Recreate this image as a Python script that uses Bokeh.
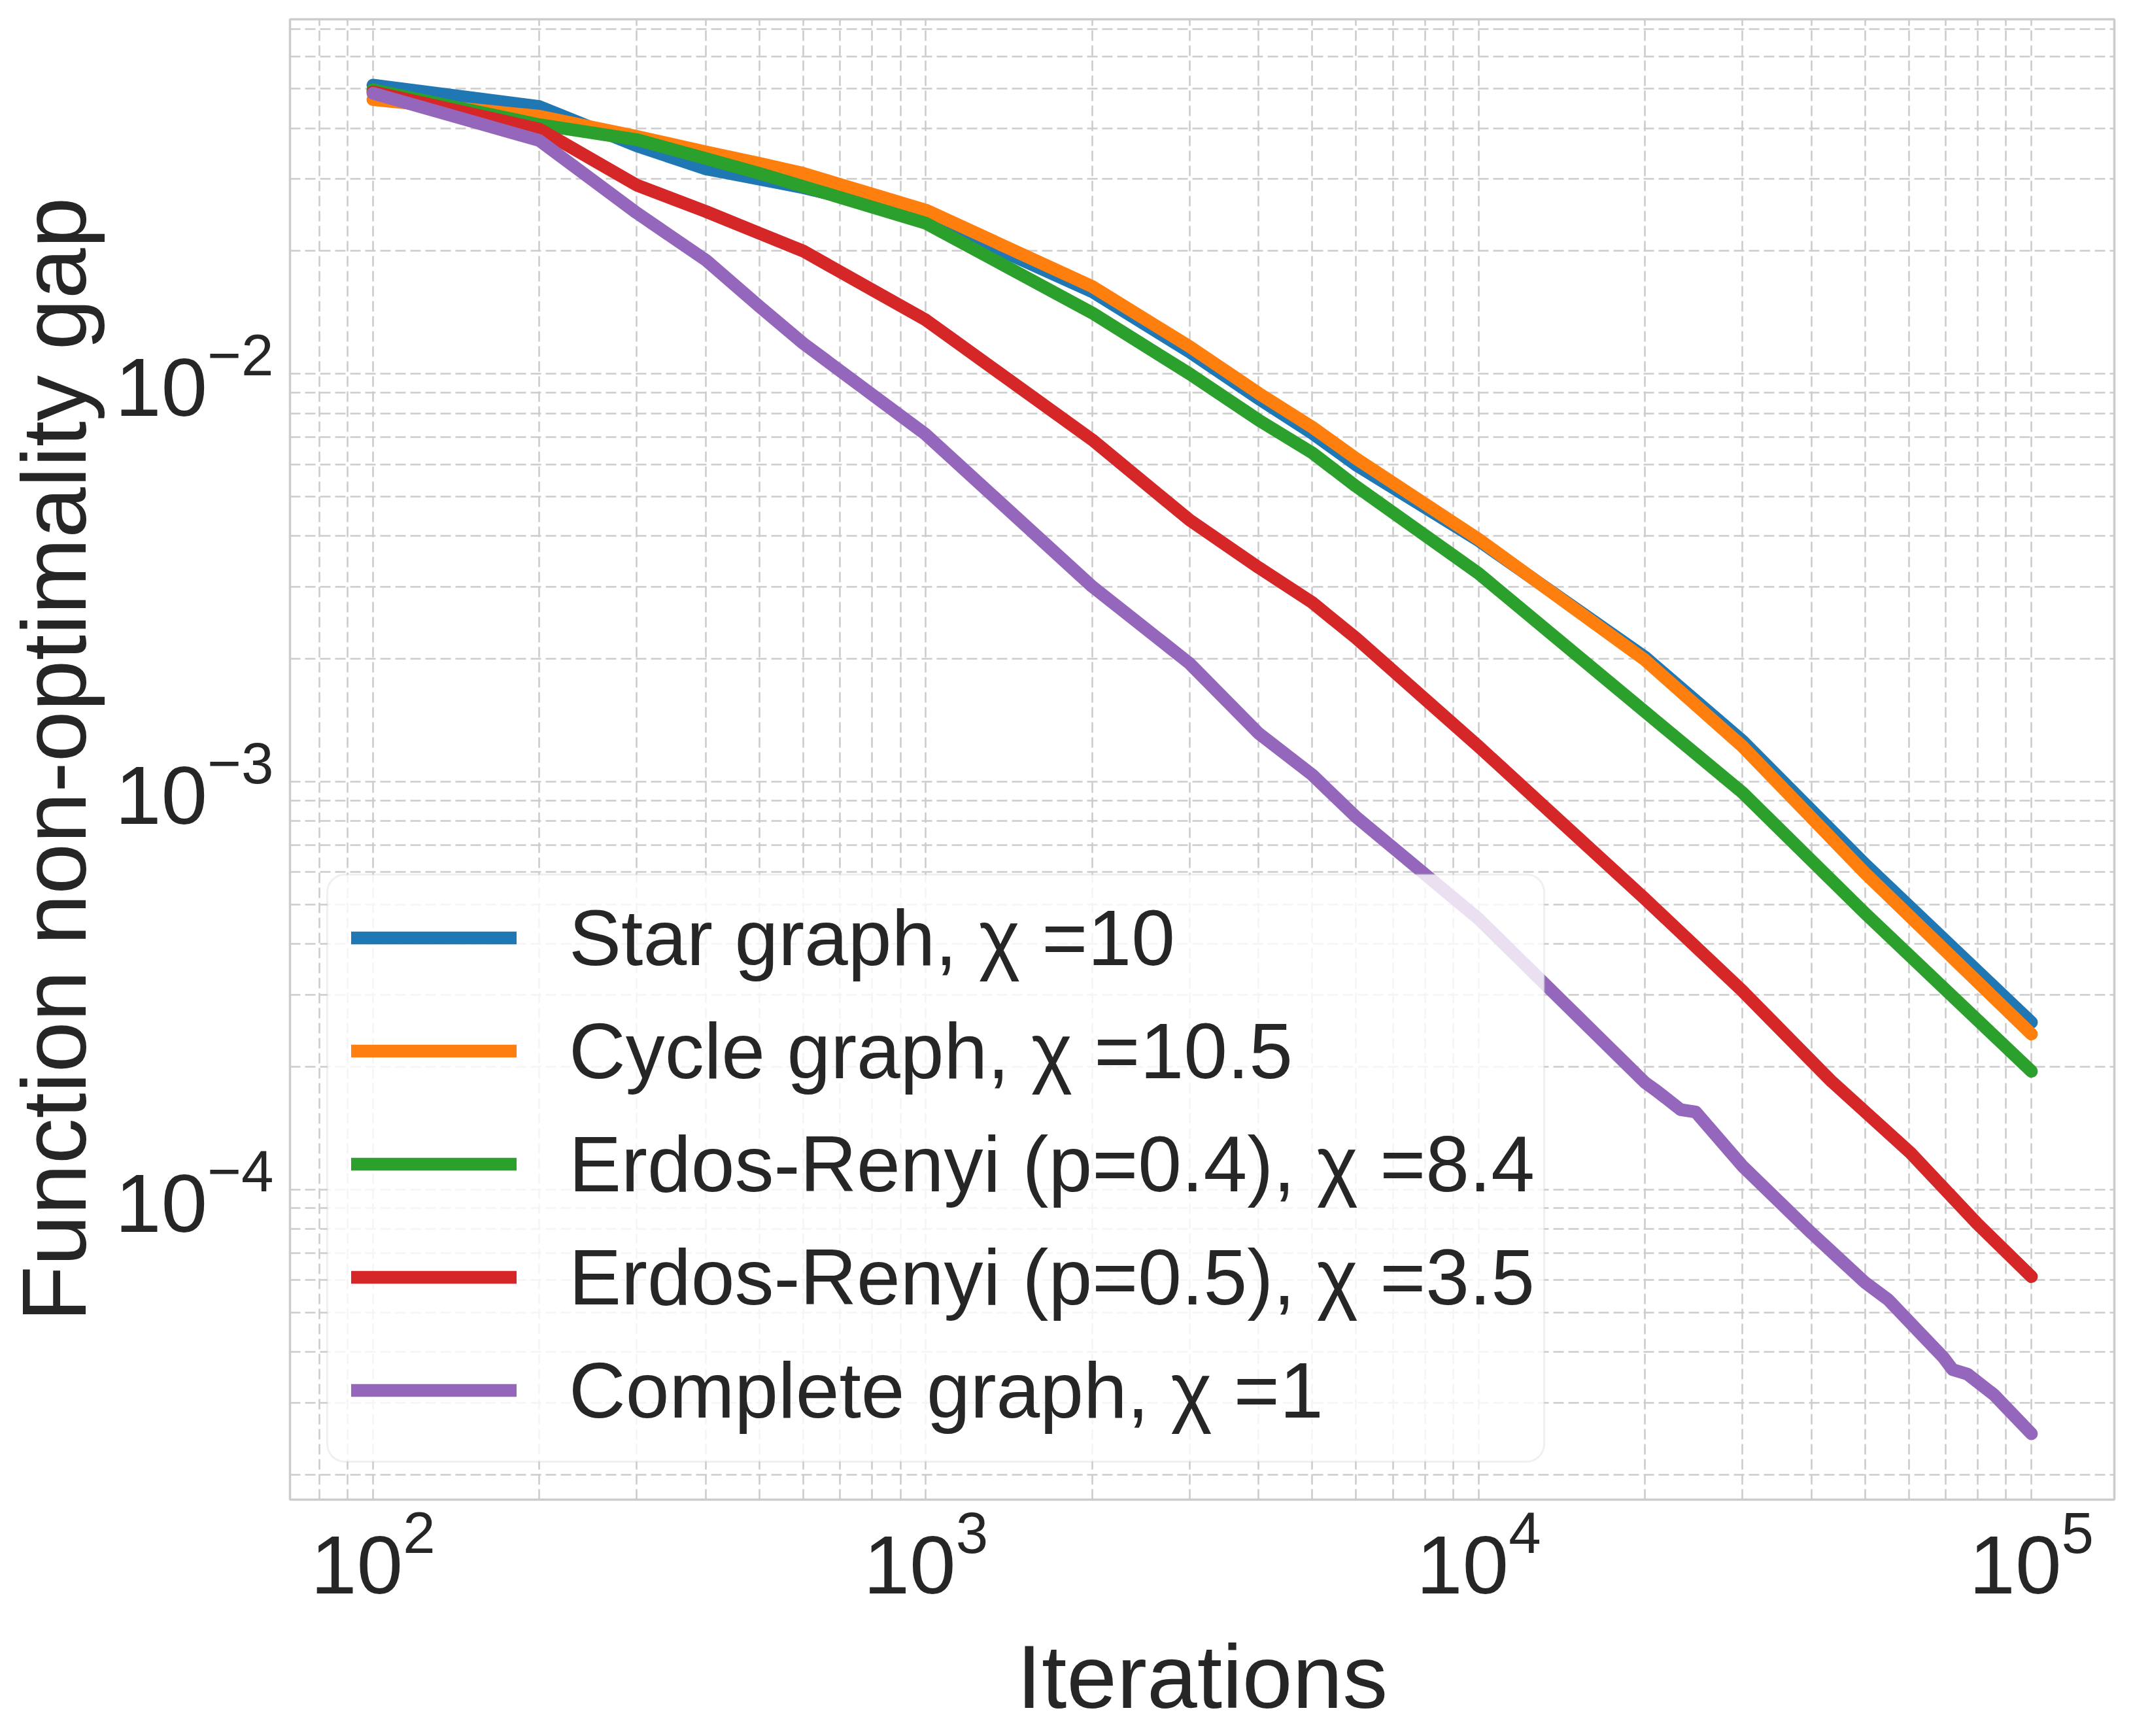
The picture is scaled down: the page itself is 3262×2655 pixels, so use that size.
import math
from bokeh.plotting import figure
from bokeh.models import (Range1d, FixedTicker, Legend, LegendItem, BoxAnnotation,
                          LogTickFormatter)
from bokeh.embed import file_html
from bokeh.resources import INLINE

# ---------------- data ----------------
star_x = [100, 200, 300, 400, 500, 600, 1000, 2000, 3000, 4000, 5000, 6000,
          10000, 20000, 30000, 50000, 100000]
star_y = [0.0510, 0.0452, 0.0362, 0.0318, 0.0300, 0.0286, 0.0243, 0.0159, 0.01131,
          0.00869, 0.00715, 0.00598, 0.00390, 0.00202, 0.00126, 0.000628, 0.000257]

cycle_x = [100, 200, 300, 400, 500, 600, 1000, 2000, 3000, 4000, 5000, 6000,
           10000, 20000, 30000, 50000, 100000]
cycle_y = [0.0470, 0.0428, 0.0382, 0.0350, 0.0328, 0.0310, 0.0252, 0.01637, 0.01166,
           0.00896, 0.0074, 0.0062, 0.00393, 0.001987, 0.001221, 0.000597, 0.0002406]

er04_x = [100, 200, 300, 400, 500, 600, 1000, 2000, 3000, 4000, 5000, 6000,
          10000, 20000, 30000, 50000, 100000]
er04_y = [0.0497, 0.0408, 0.0375, 0.0337, 0.0310, 0.0288, 0.0234, 0.0141, 0.0100,
          0.0077, 0.0064, 0.0053, 0.00324, 0.001484, 0.000941, 0.000476, 0.000195]

er05_x = [100, 200, 300, 400, 500, 600, 1000, 2000, 3000, 4000, 5000, 6000,
          10000, 20000, 30000, 43350, 60440, 79800, 100000]
er05_y = [0.0491, 0.0398, 0.0290, 0.0250, 0.0221, 0.0200, 0.01355, 0.00689, 0.00438,
          0.00335, 0.00275, 0.00225, 0.00122, 0.000516, 0.000307, 0.000185,
          0.000123, 0.0000825, 0.0000612]

complete_x = [100, 200, 300, 400, 500, 600, 1000, 2000, 3000, 4000, 5000, 6000,
              10000, 20000, 21000, 23200, 24700, 30000, 40000, 50000, 55000,
              69400, 72000, 76600, 85600, 100000]
complete_y = [0.0487, 0.0373, 0.0248, 0.0190, 0.01462, 0.01188, 0.0071, 0.00301,
              0.00195, 0.001314, 0.00104, 0.00082, 0.000461, 0.000183, 0.0001745,
              0.000157, 0.000155, 0.0001143, 0.0000783, 0.0000592, 0.0000538,
              0.0000387, 0.0000362, 0.0000353, 0.0000314, 0.0000252]

series_labels = ["Star graph, \u03c7 =10",
                 "Cycle graph, \u03c7 =10.5",
                 "Erdos-Renyi (p=0.4), \u03c7 =8.4",
                 "Erdos-Renyi (p=0.5), \u03c7 =3.5",
                 "Complete graph, \u03c7 =1"]
series_colors = ["#1f77b4", "#ff7f0e", "#2ca02c", "#d62728", "#9467bd"]

x_ticks = [1e2, 1e3, 1e4, 1e5]
y_ticks = [1e-4, 1e-3, 1e-2]

x_label = "Iterations"
y_label = "Function non-optimality gap"

# ---------------- figure ----------------
x_lo, x_hi = 10 ** 1.85, 10 ** 5.15
y_lo, y_hi = 10 ** -4.76, 10 ** -1.131

FW, FH = 2790, 2264
p = figure(x_axis_type="log", y_axis_type="log",
           x_range=Range1d(x_lo, x_hi), y_range=Range1d(y_lo, y_hi),
           frame_width=FW, frame_height=FH,
           min_border_left=443, min_border_right=15,
           min_border_top=29, min_border_bottom=340,
           output_backend="svg", toolbar_location=None,
           background_fill_color="white", border_fill_color="white")

x_minor = [k * 10.0 ** e for e in range(1, 6) for k in range(2, 10)]
y_minor = [k * 10.0 ** e for e in range(-6, 0) for k in range(2, 10)]
x_minor = [v for v in x_minor if x_lo < v < x_hi]
y_minor = [v for v in y_minor if y_lo < v < y_hi]

p.xaxis.ticker = FixedTicker(ticks=x_ticks, minor_ticks=x_minor)
p.yaxis.ticker = FixedTicker(ticks=y_ticks, minor_ticks=y_minor)
p.xaxis.formatter = LogTickFormatter()
p.yaxis.formatter = LogTickFormatter()

TXT = "#262626"
FONT = "Liberation Sans"
for ax in list(p.xaxis) + list(p.yaxis):
    ax.axis_line_color = None
    ax.major_tick_line_color = None
    ax.minor_tick_line_color = None
    ax.major_label_text_font = FONT
    ax.major_label_text_font_size = "127px"
    ax.major_label_text_color = TXT
    ax.axis_label_text_font = FONT
    ax.axis_label_text_font_style = "normal"
    ax.axis_label_text_color = TXT

p.xaxis.axis_label = x_label
p.xaxis.axis_label_text_font_size = "138px"
p.xaxis.major_label_standoff = 8
p.xaxis.axis_label_standoff = 47

p.yaxis.axis_label = y_label
p.yaxis.axis_label_text_font_size = "140px"
p.yaxis.major_label_standoff = 19
p.yaxis.axis_label_standoff = 12

for g in list(p.xgrid) + list(p.ygrid):
    g.grid_line_color = "#cccccc"
    g.grid_line_width = 2.6
    g.grid_line_dash = "16 7"
    g.minor_grid_line_color = "#cccccc"
    g.minor_grid_line_width = 2.6
    g.minor_grid_line_dash = "16 7"

p.outline_line_color = "#cccccc"
p.outline_line_width = 3.5

# ---------------- lines ----------------
all_x = [star_x, cycle_x, er04_x, er05_x, complete_x]
all_y = [star_y, cycle_y, er04_y, er05_y, complete_y]
renderers = []
for xs, ys, c in zip(all_x, all_y, series_colors):
    r = p.line(xs, ys, line_width=19.5, line_color=c,
               line_cap="round", line_join="round")
    renderers.append(r)

# ---------------- legend ----------------
box = BoxAnnotation(left=57, right=1918, bottom=58, top=956,
                    left_units="screen", right_units="screen",
                    top_units="screen", bottom_units="screen",
                    fill_color="white", fill_alpha=0.8,
                    line_color="#cccccc", line_width=3)
try:
    box.border_radius = 27
except Exception:
    pass
p.add_layout(box)

legend = Legend(items=[LegendItem(label=lab, renderers=[r])
                       for lab, r in zip(series_labels, renderers)],
                location=(94, 81), orientation="vertical",
                padding=10, spacing=1, margin=0,
                glyph_width=253, glyph_height=172, label_height=172,
                label_standoff=80,
                label_text_font=FONT, label_text_font_size="120px",
                label_text_color=TXT,
                border_line_color=None, background_fill_alpha=0)
p.add_layout(legend)

open("out.html", "w").write(file_html(p, INLINE))
